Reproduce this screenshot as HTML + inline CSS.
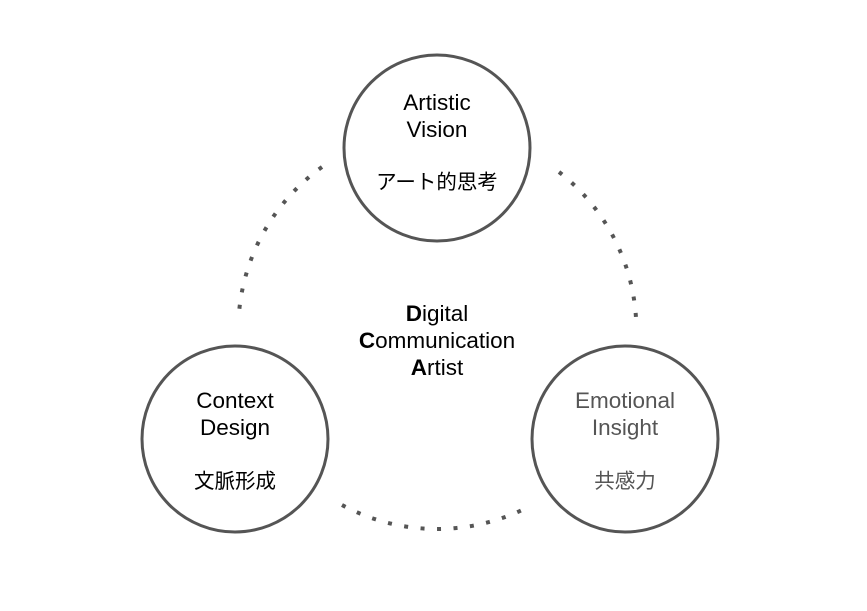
<!DOCTYPE html>
<html><head><meta charset="utf-8"><style>
html,body{margin:0;padding:0;background:#fff;}
svg{display:block;}
text{font-family:"Liberation Sans","Noto Sans CJK JP",sans-serif;font-size:22.5px;text-anchor:middle;}
text.jp{font-size:20.5px;}
</style></head><body>
<svg width="867" height="611" viewBox="0 0 867 611" xmlns="http://www.w3.org/2000/svg">
<g fill="none" stroke="#555" stroke-width="4" stroke-dasharray="4 12.5">
<path d="M 322 167 A 200 200 0 0 0 239 313"/>
<path d="M 342 505 A 200 200 0 0 0 522 510"/>
<path d="M 559 172 A 200 200 0 0 1 636 318"/>
</g>
<g fill="#fff" stroke="#555" stroke-width="3">
<circle cx="437" cy="148" r="93"/>
<circle cx="235" cy="439" r="93"/>
<circle cx="625" cy="439" r="93"/>
</g>
<g fill="#000">
<text x="437" y="110">Artistic</text>
<text x="437" y="137">Vision</text>
<text class="jp" x="437" y="189">アート的思考</text>
<text x="235" y="408">Context</text>
<text x="235" y="435">Design</text>
<text class="jp" x="235" y="488">文脈形成</text>
<text x="437" y="321"><tspan font-weight="bold">D</tspan>igital</text>
<text x="437" y="348"><tspan font-weight="bold">C</tspan>ommunication</text>
<text x="437" y="375"><tspan font-weight="bold">A</tspan>rtist</text>
</g>
<g fill="#555">
<text x="625" y="408">Emotional</text>
<text x="625" y="435">Insight</text>
<text class="jp" x="625" y="488">共感力</text>
</g>
</svg>
</body></html>
